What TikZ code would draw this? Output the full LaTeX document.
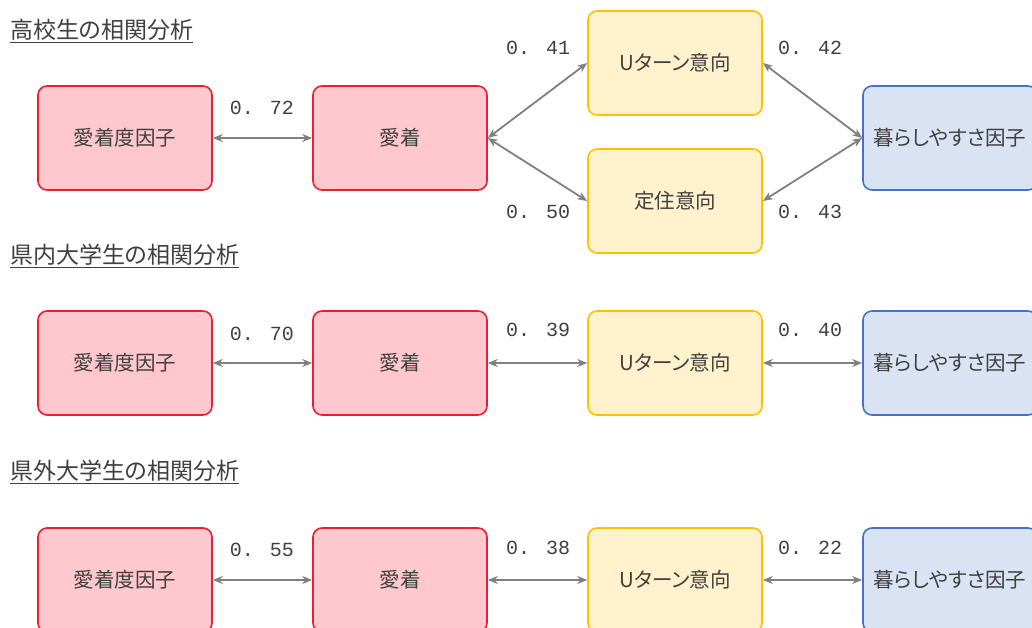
\documentclass[tikz,border=0pt]{standalone}
\usepackage{fontspec}
\setmainfont{Noto Sans CJK JP}[RawFeature=+palt]
\newfontfamily\numfont{Liberation Mono}
\usetikzlibrary{arrows.meta}
\definecolor{redfill}{RGB}{255,199,206}
\definecolor{redline}{RGB}{232,32,47}
\definecolor{yelfill}{RGB}{255,242,204}
\definecolor{yelline}{RGB}{255,192,0}
\definecolor{bluefill}{RGB}{218,227,243}
\definecolor{blueline}{RGB}{68,114,196}
\definecolor{arrowgray}{RGB}{128,128,128}
\definecolor{txt}{RGB}{64,64,64}
\tikzset{
  box/.style={rounded corners=9pt, line width=1.6pt, minimum width=174pt, minimum height=104pt, inner sep=0pt, text=txt, font=\fontsize{20.5}{24}\selectfont},
  redbox/.style={box, draw=redline, fill=redfill},
  yelbox/.style={box, draw=yelline, fill=yelfill},
  bluebox/.style={box, draw=blueline, fill=bluefill},
  conn/.style={draw=arrowgray, line width=1.8pt, {Stealth[length=10pt,width=8pt]}-{Stealth[length=10pt,width=8pt]}},
  num/.style={text=txt, font=\numfont\fontsize{20}{22}\selectfont, inner sep=0pt},
  ttl/.style={text=txt, font=\fontsize{23}{27}\selectfont, anchor=west, inner sep=0pt}
}
\begin{document}
\begin{tikzpicture}[x=1pt,y=-1pt]
\useasboundingbox (0,0) rectangle (1032,628);
\clip (0,0) rectangle (1032,628);
\fill[white] (0,0) rectangle (1032,628);
% titles
\node[ttl] (t1) at (10,31) {\underline{高校生の相関分析}};
\node[ttl] (t2) at (10,256) {\underline{県内大学生の相関分析}};
\node[ttl] (t3) at (10,472) {\underline{県外大学生の相関分析}};
% row 1
\node[redbox] (a1) at (125,138) {愛着度因子};
\node[redbox] (b1) at (400,138) {愛着};
\node[yelbox] (u1) at (675,63) {Uターン意向};
\node[yelbox] (s1) at (675,201) {定住意向};
\node[bluebox] (c1) at (950,138) {暮らしやすさ因子};
\draw[conn] (a1.east) -- (b1.west);
\draw[conn] (b1.east) -- (u1.west);
\draw[conn] (b1.east) -- (s1.west);
\draw[conn] (u1.east) -- (c1.west);
\draw[conn] (s1.east) -- (c1.west);
\node[num] (n1) at (262,108) {0. 72};
\node[num] (n2) at (538,48) {0. 41};
\node[num] (n3) at (538,212) {0. 50};
\node[num] (n4) at (810,48) {0. 42};
\node[num] (n5) at (810,212) {0. 43};
% row 2
\node[redbox] (a2) at (125,363) {愛着度因子};
\node[redbox] (b2) at (400,363) {愛着};
\node[yelbox] (u2) at (675,363) {Uターン意向};
\node[bluebox] (c2) at (950,363) {暮らしやすさ因子};
\draw[conn] (a2.east) -- (b2.west);
\draw[conn] (b2.east) -- (u2.west);
\draw[conn] (u2.east) -- (c2.west);
\node[num] (m1) at (262,334) {0. 70};
\node[num] (m2) at (538,330) {0. 39};
\node[num] (m3) at (810,330) {0. 40};
% row 3
\node[redbox] (a3) at (125,580) {愛着度因子};
\node[redbox] (b3) at (400,580) {愛着};
\node[yelbox] (u3) at (675,580) {Uターン意向};
\node[bluebox] (c3) at (950,580) {暮らしやすさ因子};
\draw[conn] (a3.east) -- (b3.west);
\draw[conn] (b3.east) -- (u3.west);
\draw[conn] (u3.east) -- (c3.west);
\node[num] (k1) at (262,550) {0. 55};
\node[num] (k2) at (538,548) {0. 38};
\node[num] (k3) at (810,548) {0. 22};
\end{tikzpicture}
\end{document}
